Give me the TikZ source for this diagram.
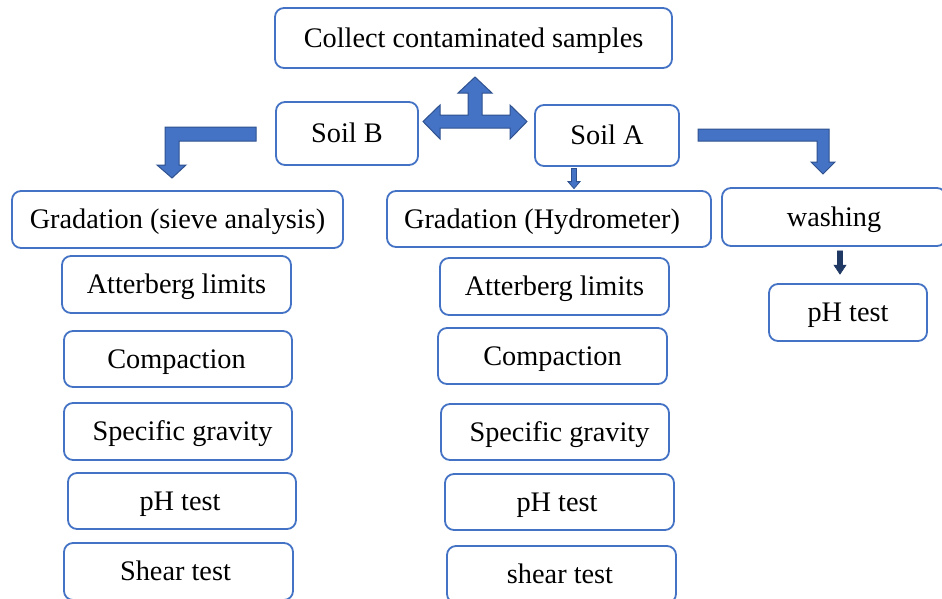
\documentclass[tikz,border=0pt]{standalone}
\usepackage{fontspec}
\setmainfont{Liberation Serif}
\usetikzlibrary{calc}
\definecolor{boxblue}{HTML}{4472C4}
\definecolor{arrowline}{HTML}{2F528F}
\definecolor{navy}{HTML}{203864}
\tikzset{
  box/.style={draw=boxblue, line width=1.8pt, rounded corners=9pt, fill=white,
    inner sep=0pt, text height=24pt, text depth=6pt, align=center,
    font=\fontsize{28.3}{30}\selectfont},
  blockarrow/.style={fill=boxblue, draw=arrowline, line width=1pt, line join=miter},
  navyarrow/.style={fill=navy, draw=navy, line width=0.6pt}
}
\begin{document}
\begin{tikzpicture}[x=1pt,y=-1pt]
\useasboundingbox (0,0) rectangle (942,598);
\clip (0,0) rectangle (942,598);
\fill[white] (0,0) rectangle (942,598);

% boxes
\node[box, minimum width=397pt, minimum height=60pt] (collect) at (473.5,38) {Collect contaminated samples};
\node[box, minimum width=142pt, minimum height=63pt] (soilB) at (347,133.5) {Soil B};
\node[box, minimum width=144pt, minimum height=61pt] (soilA) at (607,135.5) {Soil A};
\node[box, minimum width=331pt, minimum height=57pt] (sieve) at (177.5,219.5) {Gradation (sieve analysis)};
\node[box, minimum width=324pt, minimum height=56pt] (hydro) at (549,219) {Gradation (Hydrometer)\hspace*{14pt}};
\node[box, minimum width=224pt, minimum height=58pt] (washing) at (834,217) {washing};
\node[box, minimum width=158pt, minimum height=57pt] (phR) at (848,312.5) {pH test};

\node[box, minimum width=229pt, minimum height=57pt] (L1) at (176.5,284.5) {Atterberg limits};
\node[box, minimum width=228pt, minimum height=56pt] (L2) at (178,359) {Compaction\hspace*{3pt}};
\node[box, minimum width=228pt, minimum height=57pt] (L3) at (178,431.5) {\hspace*{9pt}Specific gravity};
\node[box, minimum width=228pt, minimum height=56pt] (L4) at (182,501) {pH test\hspace*{4pt}};
\node[box, minimum width=229pt, minimum height=57pt] (L5) at (178.5,571.5) {Shear test\hspace*{6pt}};

\node[box, minimum width=229pt, minimum height=57pt] (M1) at (554.5,286.5) {Atterberg limits};
\node[box, minimum width=229pt, minimum height=56pt] (M2) at (552.5,356) {Compaction};
\node[box, minimum width=228pt, minimum height=56pt] (M3) at (555,432) {\hspace*{9pt}Specific gravity};
\node[box, minimum width=229pt, minimum height=56pt] (M4) at (559.5,502) {pH test\hspace*{5pt}};
\node[box, minimum width=229pt, minimum height=57pt] (M5) at (561.5,574.5) {shear test\hspace*{3pt}};

% L arrow from Soil B to sieve analysis
\draw[blockarrow] (256,127) -- (165,127) -- (165,165) -- (157,165) -- (172,178)
  -- (186,165) -- (179,165) -- (179,141) -- (256,141) -- cycle;

% three-way arrow
\draw[blockarrow] (423,121.5) -- (440,105) -- (440,115) -- (468,115) -- (468,93)
  -- (458,93) -- (475,77) -- (492,93) -- (482,93) -- (482,115) -- (510,115)
  -- (510,105) -- (527,121.5) -- (510,139) -- (510,128) -- (440,128)
  -- (440,139) -- cycle;

% L arrow from Soil A to washing
\draw[blockarrow] (698,129) -- (829,129) -- (829,162) -- (835,162) -- (823,174)
  -- (811,162) -- (817,162) -- (817,141) -- (698,141) -- cycle;

% small arrow Soil A -> Hydrometer
\coordinate (xa) at (574,0);
\coordinate (sa) at ($(soilA.south -| xa)+(0,1.5)$);
\coordinate (ha) at ($(hydro.north -| xa)+(0,-1.5)$);
\draw[blockarrow, line width=0.8pt] ($(sa)+(-2.5,0)$) -- ($(sa)+(2.5,0)$) -- ($(ha)+(2.5,-7)$)
  -- ($(ha)+(6,-7)$) -- (ha) -- ($(ha)+(-6,-7)$) -- ($(ha)+(-2.5,-7)$) -- cycle;

% washing -> pH test
\coordinate (xw) at (840,0);
\coordinate (wa) at ($(washing.south -| xw)+(0,4)$);
\coordinate (pa) at ($(phR.north -| xw)+(0,-9)$);
\draw[navyarrow] ($(wa)+(-2.5,0)$) -- ($(wa)+(2.5,0)$) -- ($(pa)+(2.5,-9)$)
  -- ($(pa)+(6,-9)$) -- (pa) -- ($(pa)+(-6,-9)$) -- ($(pa)+(-2.5,-9)$) -- cycle;
\end{tikzpicture}
\end{document}
